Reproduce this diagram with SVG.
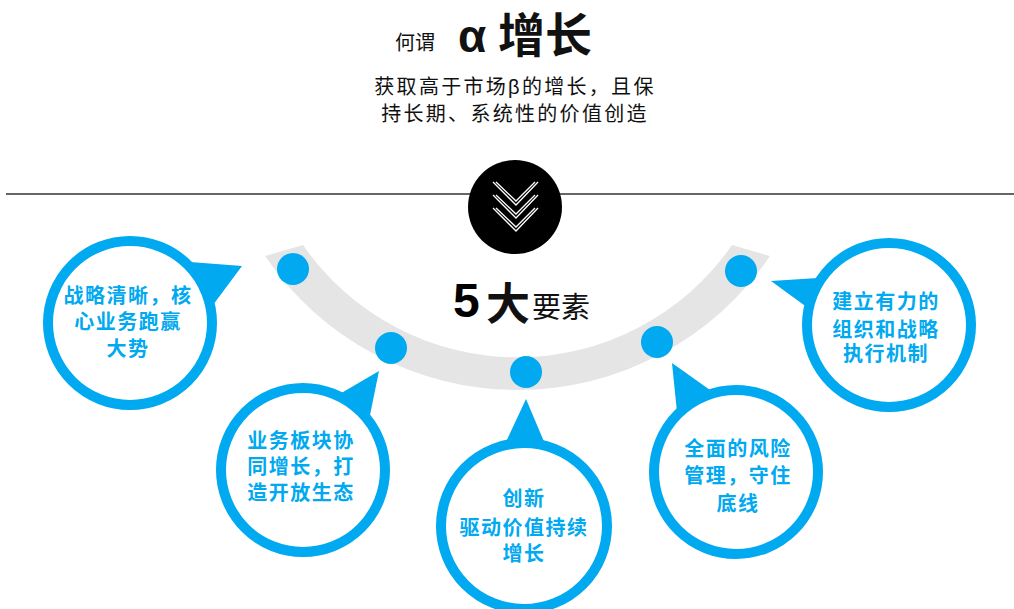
<svg xmlns="http://www.w3.org/2000/svg" width="1014" height="609" viewBox="0 0 1014 609">
<style>
.ring{fill:#fff;stroke:#00A9F0;stroke-width:10}
.tail{fill:#00A9F0}
.dot{fill:#00A9F0}
.lbl{font-family:"Liberation Sans","Noto Sans CJK SC",sans-serif;font-weight:bold;font-size:20px;fill:#00A9F0;text-anchor:middle;letter-spacing:1.5px}
.blk{font-family:"Liberation Sans","Noto Sans CJK SC",sans-serif;fill:#111}
</style>
<rect width="1014" height="609" fill="#fff"/>
<g id="title">
<text class="blk" x="395" y="50" font-size="20">何谓</text>
<text class="blk" x="458" y="52" font-size="46" font-weight="bold">α</text>
<text class="blk" x="498" y="52" font-size="47" font-weight="bold">增长</text>
<text class="blk" x="515" y="94" font-size="20" text-anchor="middle" letter-spacing="2.3">获取高于市场β的增长，且保</text>
<text class="blk" x="515" y="121" font-size="20" text-anchor="middle" letter-spacing="2.3">持长期、系统性的价值创造</text>
</g>
<line x1="6" y1="194" x2="1014" y2="194" stroke="#666" stroke-width="2"/>
<g id="arc">
<path d="M265,256 A305,305 0 0 0 770,256 L732,245 A261,261 0 0 1 303,245 Z" fill="#E5E5E5"/>
<circle class="dot" cx="293" cy="269" r="16"/>
<circle class="dot" cx="391" cy="348" r="16"/>
<circle class="dot" cx="526" cy="372" r="16"/>
<circle class="dot" cx="657" cy="342" r="16"/>
<circle class="dot" cx="741" cy="271" r="16"/>
</g>
<g id="down-button">
<circle cx="515" cy="207" r="47" fill="#000"/>
<g fill="none" stroke="#fff" stroke-width="1.3">
<path d="M493,182 L516,205 L538,182 M496,182 L516,201 L535,182"/>
<path d="M493,195 L516,218 L538,195 M496,195 L516,214 L535,195"/>
<path d="M493,208 L516,231 L538,208 M496,208 L516,227 L535,208"/>
</g>
</g>
<g id="heading">
<text x="453" y="317" font-family="Liberation Sans, sans-serif" font-weight="bold" font-size="48" fill="#000">5</text>
<text class="blk" x="486" y="320" font-size="44" font-weight="bold" fill="#000">大</text>
<text class="blk" x="532" y="318" font-size="29" fill="#000">要素</text>
</g>
<g id="node1">
<polygon class="tail" points="190,262 242,266 213,305"/>
<circle class="ring" cx="130" cy="323" r="82"/>
<text class="lbl" x="128" y="303">战略清晰，核</text>
<text class="lbl" x="128" y="329">心业务跑赢</text>
<text class="lbl" x="128" y="356">大势</text>
</g>
<g id="node2">
<polygon class="tail" points="338,395 379,371 370,415"/>
<circle class="ring" cx="303" cy="470" r="82"/>
<text class="lbl" x="301" y="448">业务板块协</text>
<text class="lbl" x="301" y="474">同增长，打</text>
<text class="lbl" x="301" y="500">造开放生态</text>
</g>
<g id="node3">
<polygon class="tail" points="505,444 526,399 545,444"/>
<circle class="ring" cx="524" cy="526" r="83"/>
<text class="lbl" x="524" y="506">创新</text>
<text class="lbl" x="524" y="535">驱动价值持续</text>
<text class="lbl" x="524" y="561">增长</text>
</g>
<g id="node4">
<polygon class="tail" points="677,412 672,363 710,390"/>
<circle class="ring" cx="736" cy="472" r="82"/>
<text class="lbl" x="738" y="456">全面的风险</text>
<text class="lbl" x="738" y="483">管理，守住</text>
<text class="lbl" x="738" y="511">底线</text>
</g>
<g id="node5">
<polygon class="tail" points="818,278 771,281 808,308"/>
<circle class="ring" cx="889" cy="325" r="82"/>
<text class="lbl" x="886" y="309">建立有力的</text>
<text class="lbl" x="886" y="337">组织和战略</text>
<text class="lbl" x="886" y="361">执行机制</text>
</g>
</svg>
